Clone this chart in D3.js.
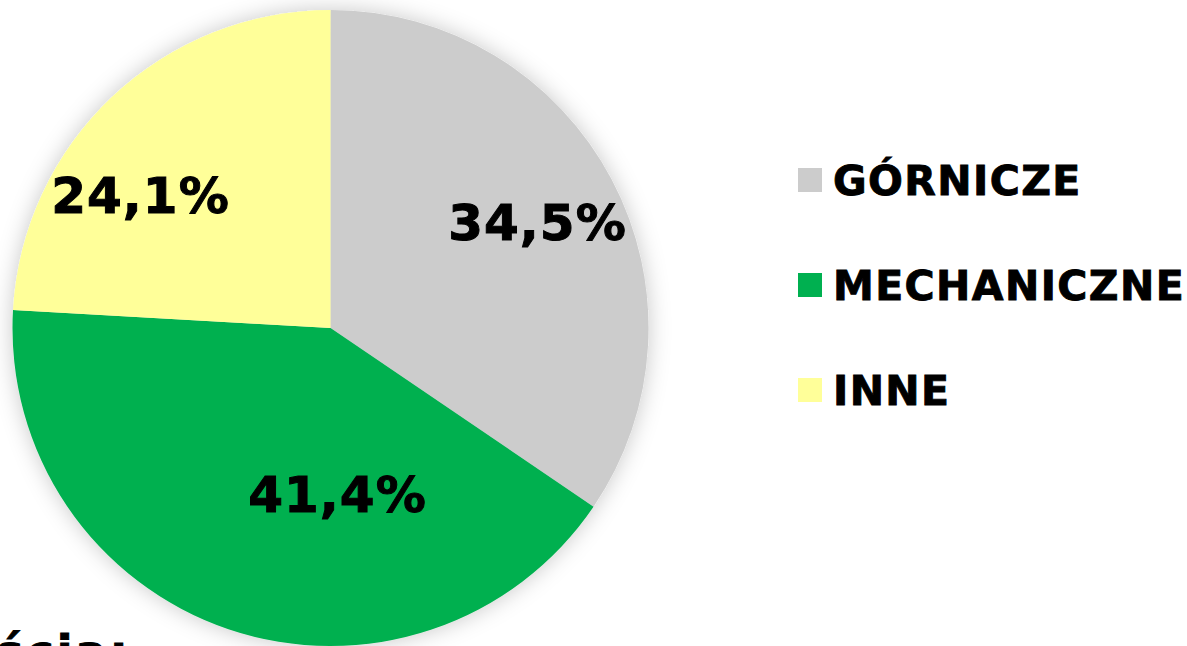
<!DOCTYPE html>
<html>
<head>
<meta charset="utf-8">
<script src="https://cdn.jsdelivr.net/npm/d3@7"></script>
<style>
  html, body { margin: 0; padding: 0; background: #fff; overflow: hidden; }
  text { font-family: Verdana, "DejaVu Sans", sans-serif; font-weight: bold; }
</style>
</head>
<body>
<div id="chart"></div>
<script>
// data
var categories = ["GÓRNICZE", "MECHANICZNE", "INNE"];
var values = [34.5, 41.4, 24.1];
var colors = ["#cccccc", "#00b050", "#ffff99"];
// label offsets from pie centre (Excel best-fit placement)
var labelOffsets = [[207, -106], [7, 166], [-190, -133]];

var width = 1187, height = 646;
var cx = 330.5, cy = 328, radius = 318;

var svg = d3.select("#chart").append("svg")
  .attr("width", width)
  .attr("height", height);

//Soft shadow all round the pie
var defs = svg.append("defs");
var filter = defs.append("filter")
  .attr("id", "shadow")
  .attr("x", "-20%").attr("y", "-20%")
  .attr("width", "140%").attr("height", "140%");
filter.append("feDropShadow")
  .attr("dx", 0).attr("dy", 0)
  .attr("stdDeviation", 11)
  .attr("flood-color", "#000")
  .attr("flood-opacity", 0.22);

var pie = d3.pie().sort(null).value(function(d) { return d; });
var arc = d3.arc().innerRadius(0).outerRadius(radius);

var g = svg.append("g")
  .attr("transform", "translate(" + cx + "," + cy + ")");

var arcs = pie(values);

g.append("g")
  .attr("filter", "url(#shadow)")
  .selectAll("path")
  .data(arcs)
  .enter()
  .append("path")
  .attr("d", arc)
  .style("fill", function(d, i) { return colors[i]; });

//Value labels
g.selectAll("text.label")
  .data(arcs)
  .enter()
  .append("text")
  .attr("class", "label")
  .attr("x", function(d, i) { return labelOffsets[i][0]; })
  .attr("y", function(d, i) { return labelOffsets[i][1]; })
  .attr("dy", "0.36em")
  .style("text-anchor", "middle")
  .style("font-size", "50px")
  .style("letter-spacing", "1px")
  .style("fill", "#000")
  .style("stroke", "#000")
  .style("stroke-width", "1px")
  .text(function(d) { return d3.format(".1f")(d.data).replace(".", ",") + "%"; });

//Legend
var legendY = d3.scalePoint()
  .domain(categories)
  .range([180, 390]);

var legend = svg.append("g")
  .attr("transform", "translate(798,0)");

var item = legend.selectAll("g.item")
  .data(categories)
  .enter()
  .append("g")
  .attr("class", "item")
  .attr("transform", function(d) { return "translate(0," + legendY(d) + ")"; });

item.append("rect")
  .attr("x", 0)
  .attr("y", -12)
  .attr("width", 24)
  .attr("height", 24)
  .style("fill", function(d, i) { return colors[i]; });

item.append("text")
  .attr("x", 35)
  .attr("y", 15)
  .style("font-size", "41px")
  .style("letter-spacing", "1.4px")
  .style("fill", "#000")
  .style("stroke", "#000")
  .style("stroke-width", "0.9px")
  .text(function(d) { return d; });

//Cut-off text at the bottom
svg.append("text")
  .attr("x", -4)
  .attr("y", 668)
  .style("font-size", "46px")
  .style("letter-spacing", "3px")
  .style("fill", "#000")
  .style("stroke", "#000")
  .style("stroke-width", "1px")
  .text("ścią:");
</script>
</body>
</html>
